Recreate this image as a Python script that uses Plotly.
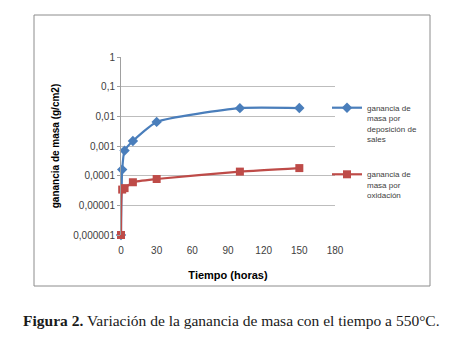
import plotly.graph_objects as go

# Data
tiempo_sales = [0, 1, 3, 10, 30, 100, 150]
ganancia_sales = [0.000001, 0.00016, 0.0007, 0.00147, 0.0065, 0.0189, 0.019]
tiempo_oxid = [0, 1, 3, 10, 30, 100, 150]
ganancia_oxid = [0.000001, 0.000034, 0.000038, 0.00006, 0.000077, 0.000137, 0.00018]

y_tickvals = [0.000001, 0.00001, 0.0001, 0.001, 0.01, 0.1, 1]
y_ticktext = ["0,000001", "0,00001", "0,0001", "0,001", "0,01", "0,1", "1"]
x_tickvals = [0, 30, 60, 90, 120, 150, 180]

serie_sales = "ganancia de<br>masa por<br>deposición de<br>sales"
serie_oxid = "ganancia de<br>masa por<br>oxidación"

BLUE = "#4A7EBB"
RED = "#BE4B48"

fig = go.Figure()
fig.add_trace(go.Scatter(
    x=tiempo_sales, y=ganancia_sales, name=serie_sales, legendgroup="a",
    mode="lines+markers", line=dict(color=BLUE, width=2.2, shape="spline", smoothing=0.5),
    marker=dict(symbol="diamond", size=8, color=BLUE), cliponaxis=False,
))
fig.add_trace(go.Scatter(
    x=tiempo_oxid, y=ganancia_oxid, name=serie_oxid, legendgroup="b",
    mode="lines+markers", line=dict(color=RED, width=2.2, shape="spline", smoothing=0.5),
    marker=dict(symbol="square", size=8, color=RED), cliponaxis=False,
))

W, H = 462, 341
L, R, T, B = 121, 335, 57, 235
pw, ph = R - L, B - T

def px(xp):
    return (xp - L) / pw

def py(yp):
    return (B - yp) / ph

fig.update_layout(
    width=W, height=H,
    margin=dict(l=L, r=W - R, t=T, b=H - B, autoexpand=False),
    paper_bgcolor="white", plot_bgcolor="white",
    font=dict(family="Liberation Sans, Arial, sans-serif", size=10, color="#404040"),
    showlegend=True,
    legend=dict(
        x=px(327), y=py(96), xanchor="left", yanchor="top",
        font=dict(size=8, color="#404040"), valign="top",
        itemwidth=30, tracegroupgap=22, bgcolor="rgba(0,0,0,0)",
    ),
    xaxis=dict(
        range=[0, 180], tickvals=x_tickvals, showgrid=False, zeroline=False,
        showline=False, ticks="outside", ticklen=6, tickcolor="rgba(0,0,0,0)",
        tickfont=dict(size=10, color="#404040"), automargin=False,
        title=dict(text="<b>Tiempo (horas)</b>", font=dict(size=11, color="#000000"), standoff=16),
    ),
    yaxis=dict(
        type="log", range=[-6, 0], tickvals=y_tickvals, ticktext=y_ticktext,
        showgrid=True, gridcolor="#BDBDBD", gridwidth=1, zeroline=False,
        showline=True, linecolor="#A0A0A0", linewidth=1,
        ticks="outside", ticklen=3, tickcolor="#A0A0A0",
        tickfont=dict(size=10, color="#404040"), automargin=False,
        title=dict(text="<b>ganancia de masa (g/cm2)</b>", font=dict(size=10, color="#000000"), standoff=11),
    ),
    shapes=[
        dict(type="rect", xref="paper", yref="paper",
             x0=px(34), x1=px(430), y0=py(286), y1=py(15),
             line=dict(color="#8C8C8C", width=1), fillcolor="rgba(0,0,0,0)", layer="below"),
    ],
    annotations=[
        dict(text="<b>Figura 2.</b> Variación de la ganancia de masa con el tiempo a 550°C.",
             xref="paper", yref="paper", x=px(231), y=py(320), xanchor="center", yanchor="middle",
             showarrow=False, font=dict(family="Liberation Serif, serif", size=15.5, color="#1a1a1a")),
    ],
)

fig.write_html("out.html", config={"displayModeBar": False},
               post_script="document.body.style.margin='0';")
